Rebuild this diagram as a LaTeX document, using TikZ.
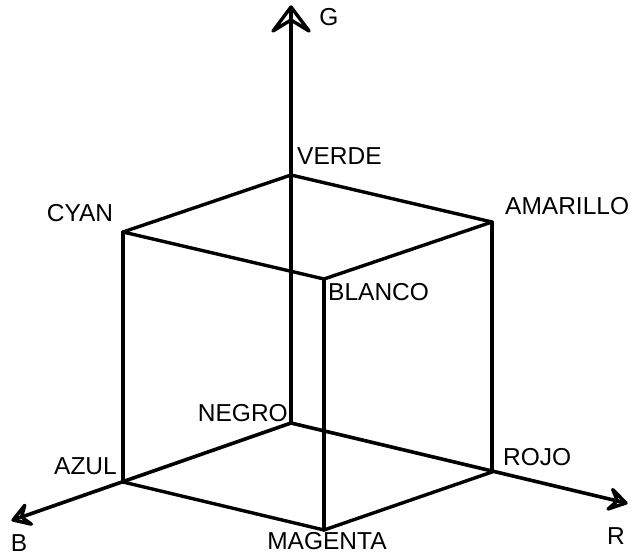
\documentclass[tikz,border=0pt]{standalone}
\usepackage{fontspec}
\setmainfont{Liberation Sans}
\usetikzlibrary{calc}
\begin{document}
\begin{tikzpicture}[x=1pt,y=-1pt,
  edge/.style={line width=3.4pt,line join=round,line cap=round},
  axis/.style={line width=3.6pt},
  head/.style={line width=3.4pt,line join=round},
  lbl/.style={inner sep=0pt,font=\fontsize{24.5}{28}\selectfont}]
\useasboundingbox (0,0) rectangle (634,556);
% corners
\coordinate (negro) at (291,423);
\coordinate (verde) at (291,175);
\coordinate (cyan) at (123,232);
\coordinate (amarillo) at (492,222);
\coordinate (blanco) at (324,279);
\coordinate (azul) at (123,482);
\coordinate (rojo) at (492,472);
\coordinate (magenta) at (324,530);
\coordinate (gtip) at (291,7);
\coordinate (btip) at (13,520);
\coordinate (rtip) at (626,503);
% arrowhead points
\coordinate (gbase) at ($(gtip)!24pt!(negro)$);
\coordinate (gb1) at ($(gbase)!18pt!90:(gtip)$);
\coordinate (gb2) at ($(gbase)!18pt!-90:(gtip)$);
\coordinate (gnotch) at ($(gtip)!13pt!(negro)$);
\coordinate (bbase) at ($(btip)!16pt!(negro)$);
\coordinate (bb1) at ($(bbase)!10pt!90:(btip)$);
\coordinate (bb2) at ($(bbase)!10pt!-90:(btip)$);
\coordinate (bnotch) at ($(btip)!9pt!(negro)$);
\coordinate (rbase) at ($(rtip)!16pt!(negro)$);
\coordinate (rb1) at ($(rbase)!10pt!90:(rtip)$);
\coordinate (rb2) at ($(rbase)!10pt!-90:(rtip)$);
\coordinate (rnotch) at ($(rtip)!9pt!(negro)$);
% axes
\draw[axis] (negro) -- (gtip);
\draw[axis] (negro) -- (btip);
\draw[axis] (negro) -- (rtip);
\draw[head] (gb1) -- (gtip) -- (gb2) -- (gnotch) -- cycle;
\draw[head] (bb1) -- (btip) -- (bb2) -- (bnotch) -- cycle;
\draw[head] (rb1) -- (rtip) -- (rb2) -- (rnotch) -- cycle;
% cube
\draw[edge] (verde) -- (cyan);
\draw[edge] (verde) -- (amarillo);
\draw[edge] (cyan) -- (blanco);
\draw[edge] (amarillo) -- (blanco);
\draw[edge] (cyan) -- (azul);
\draw[edge] (blanco) -- (magenta);
\draw[edge] (amarillo) -- (rojo);
\draw[edge] (azul) -- (magenta);
\draw[edge] (rojo) -- (magenta);
% labels
\node[lbl] (lg) at (329,17) {G};
\node[lbl] (lb) at (19,543) {B};
\node[lbl] (lr) at (616,536) {R};
\node[lbl,anchor=west] (lverde) at (297,156) {VERDE};
\node[lbl] (lcyan) at (80,213) {CYAN};
\node[lbl,anchor=west] (lamarillo) at (505,206) {AMARILLO};
\node[lbl,anchor=west] (lblanco) at (328,292) {BLANCO};
\node[lbl,anchor=east] (lnegro) at (288,413) {NEGRO};
\node[lbl,anchor=east] (lazul) at (117,466) {AZUL};
\node[lbl,anchor=west] (lrojo) at (503,457) {ROJO};
\node[lbl] (lmagenta) at (327,541) {MAGENTA};
\end{tikzpicture}
\end{document}
